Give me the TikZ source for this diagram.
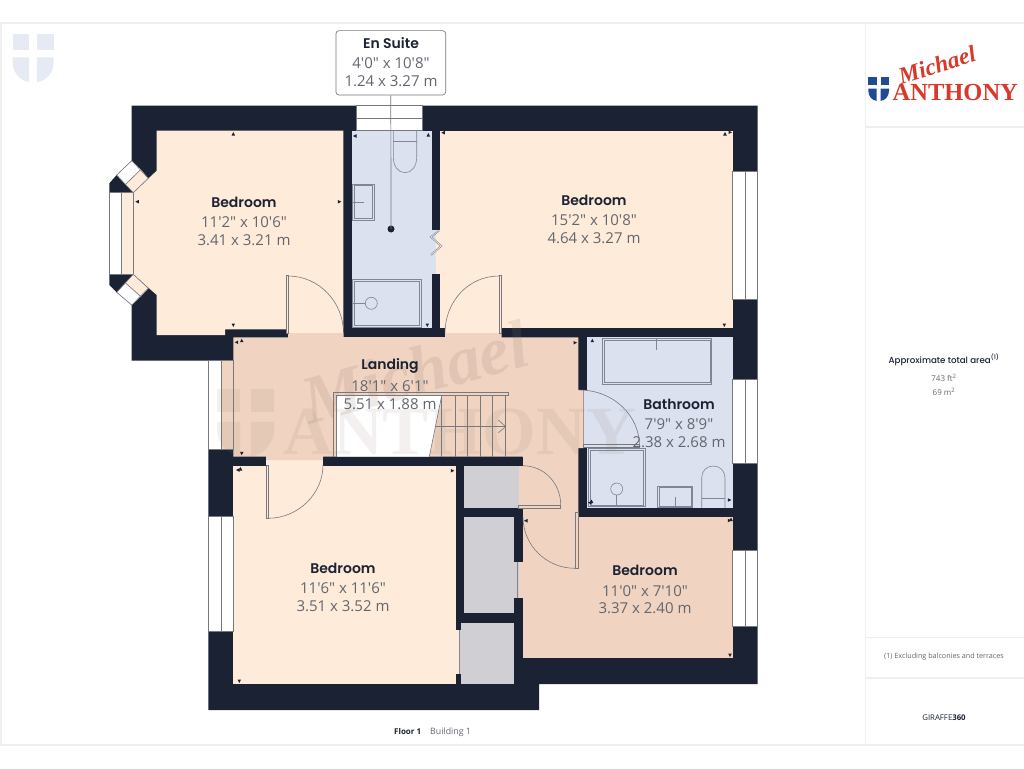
\documentclass[tikz,border=0pt]{standalone}
\usepackage{fontspec}
\newfontfamily\ttl{Poppins SemiBold}
\newfontfamily\ttm{Poppins Medium}
\newfontfamily\dimf{Open Sans}
\newfontfamily\wmf{Liberation Serif}
\definecolor{wallc}{HTML}{1A2233}
\definecolor{peachA}{HTML}{FFEBDA}
\definecolor{peachB}{HTML}{F0D3C1}
\definecolor{blueR}{HTML}{DBE1EF}
\definecolor{cupb}{HTML}{D0CFD3}
\definecolor{dimc}{HTML}{62676F}
\definecolor{framec}{HTML}{EFEFEF}
\definecolor{linec}{HTML}{77797F}
\definecolor{fixc}{HTML}{7F8694}
\definecolor{logoR}{HTML}{D9392B}
\definecolor{logoB}{HTML}{1E4B94}
\definecolor{wmc}{HTML}{8C7464}
\tikzset{
  x=1pt,y=-1pt,
  framel/.style={draw=framec,line width=1.2pt},
  winl/.style={draw=linec,line width=.6pt},
  doorl/.style={draw=linec,line width=.6pt},
  fixl/.style={draw=fixc,line width=.6pt},
  fixd/.style={draw=fixc,line width=.6pt},
  title/.style={inner sep=0pt,text=wallc,font=\ttl\fontsize{14}{16}\selectfont},
  dims/.style={inner sep=0pt,text=dimc,font=\dimf\fontsize{15}{17}\selectfont},
  side/.style={inner sep=0pt,text=dimc,font=\dimf\fontsize{8}{9}\selectfont},
  shieldmark/.pic={
    \fill[pic actions] (0,0) rectangle (16.5,16.5);
    \fill[pic actions] (24.2,0) rectangle (41,16.5);
    \fill[pic actions] (0,23.5) -- (16.5,23.5) -- (16.5,48) .. controls (7,47) and (0,38) .. (0,28) -- cycle;
    \fill[pic actions] (24.2,23.5) -- (41,23.5) -- (41,28) .. controls (41,38) and (34,47) .. (24.2,48) -- cycle;
  }
}
\newcommand{\tkU}[2]{\fill[wallc,shift={(#1,#2)}] (0,-2) -- (1.8,1.5) -- (-1.8,1.5) -- cycle;}
\newcommand{\tkD}[2]{\fill[wallc,shift={(#1,#2)}] (0,2) -- (1.8,-1.5) -- (-1.8,-1.5) -- cycle;}
\newcommand{\tkL}[2]{\fill[wallc,shift={(#1,#2)}] (-2,0) -- (1.5,-1.8) -- (1.5,1.8) -- cycle;}
\newcommand{\tkR}[2]{\fill[wallc,shift={(#1,#2)}] (2,0) -- (-1.5,-1.8) -- (-1.5,1.8) -- cycle;}
\begin{document}
\begin{tikzpicture}
\useasboundingbox (0,0) rectangle (1024,768);
\fill[white] (0,0) rectangle (1024,768);
% frame
\draw[framel] (0,23) -- (1024,23);
\draw[framel] (0,745) -- (1024,745);
\draw[framel] (1,23) -- (1,745);
\draw[framel] (865.3,23) -- (865.3,745);
\draw[framel] (865.3,127) -- (1024,127);
\draw[framel] (865.3,637.5) -- (1024,637.5);
\draw[framel] (865.3,678) -- (1024,678);
% top-left mark
\pic[fill=blueR!70] at (12.7,34) {shieldmark};
% walls
\fill[wallc] (131.7,105.7) -- (757.6,105.7) -- (757.6,684) -- (539,684) -- (539,710) -- (208.3,710) -- (208.3,360.5) -- (131.7,360.5) -- (131.7,305) -- (116.7,292.3) -- (109.3,285) -- (109.3,183.3) -- (116.7,175) -- (131.7,160.7) -- cycle;
% rooms
\fill[peachA] (156.7,130.7) -- (343.3,130.7) -- (343.3,328.3) -- (286,328.3) -- (286,329.3) -- (225,329.3) -- (225,335) -- (156.7,335) -- (156.7,295) -- (133.3,274.3) -- (133.3,192.7) -- (156.7,170.7) -- cycle;
\fill[peachA] (286,325) rectangle (343.3,333);
\fill[peachA] (440,130.7) rectangle (732.7,328.3);
\fill[peachA] (436,230) rectangle (440,274);
\fill[peachA] (445,325) rectangle (501.5,333);
\fill[blueR] (351.7,130.7) rectangle (431.7,328);
\fill[blueR] (431.7,230) rectangle (436,274);
\fill[blueR] (587.3,337.3) rectangle (732.7,507.7);
\fill[blueR] (583.5,390) rectangle (587.3,448);
\fill[peachA] (233.3,465.5) rectangle (455.7,684);
\fill[peachA] (266,456.7) rectangle (323,466);
\fill[peachA] (455,630) rectangle (461,674);
\fill[cupb] (464,465.7) rectangle (519,508);
\fill[cupb] (464,516.7) rectangle (514,613);
\fill[cupb] (461,622.5) rectangle (514,684);
\fill[cupb] (514,562) rectangle (517.5,598);
% landing
\fill[peachB] (233.3,337.3) -- (288,337.3) -- (288,333) -- (343.5,333) -- (343.5,337) -- (445,337) -- (445,333) -- (501.5,333) -- (501.5,337.3) -- (578.3,337.3) -- (578.3,390) -- (583.5,390) -- (583.5,448) -- (578.3,448) -- (578.3,517) -- (522.5,517) -- (522.5,456.7) -- (323,456.7) -- (323,460) -- (266,460) -- (266,456.7) -- (233.3,456.7) -- cycle;
\fill[peachB] (519,465.7) rectangle (523,508);
\fill[peachB] (522.5,516.7) rectangle (732.7,658.3);
\fill[peachB] (517.5,562) rectangle (522.5,598);
% walls redrawn that landing overlaps
\fill[wallc] (323,456.7) rectangle (522.7,465.7);
\fill[wallc] (514,508) rectangle (522.7,516.7);
\fill[wallc] (514,516.7) rectangle (522.5,561.7);
% windows
\fill[white] (356,105.7) rectangle (422.7,130.7);
\draw[winl] (356,105.7) rectangle (422.7,130.7);
\draw[winl] (356,118) -- (422.7,118);
\foreach \ya/\yb in {171/299,379/463,550/626}{
  \fill[white] (732.7,\ya) rectangle (757.6,\yb);
  \draw[winl] (732.7,\ya) rectangle (757.6,\yb);
  \draw[winl] (745.3,\ya) -- (745.3,\yb);
}
\fill[white] (208.3,516) rectangle (233.3,631);
\draw[winl] (208.3,516) rectangle (233.3,631);
\draw[winl] (221,516) -- (221,631);
\fill[white] (208.3,360.7) rectangle (221,449);
\fill[peachB] (221,360.7) rectangle (233.3,449);
\draw[winl] (208.3,360.7) rectangle (233.3,449);
\draw[winl] (221,360.7) -- (221,449);
% bay window
\fill[white] (109.3,192.7) rectangle (121.7,274.3);
\fill[peachA] (121.7,192.7) rectangle (133.3,274.3);
\draw[winl] (109.3,192.7) rectangle (133.3,274.3);
\draw[winl] (121.7,192.7) -- (121.7,274.3);
\fill[white] (131.7,160.7) -- (140.8,169.5) -- (125.5,184.5) -- (116.7,175) -- cycle;
\fill[peachA] (140.8,169.5) -- (148.3,178.3) -- (133.3,192.7) -- (125.5,184.5) -- cycle;
\draw[winl] (131.7,160.7) -- (148.3,178.3) -- (133.3,192.7) -- (116.7,175) -- cycle;
\draw[winl] (140.8,169.5) -- (125.5,184.5);
\fill[white] (116.7,292.3) -- (131.7,305) -- (140.8,296.5) -- (125.5,283) -- cycle;
\fill[peachA] (125.5,283) -- (140.8,296.5) -- (148.3,288.3) -- (133.3,274.3) -- cycle;
\draw[winl] (133.3,274.3) -- (148.3,288.3) -- (131.7,305) -- (116.7,292.3) -- cycle;
\draw[winl] (125.5,283) -- (140.8,296.5);
% stairs
\fill[white] (336.7,395.7) -- (441.7,395.7) -- (429.3,456.7) -- (336.7,456.7) -- cycle;
\draw[winl] (333.3,456.7) -- (333.3,392.3) -- (508.3,392.3) -- (508.3,395.7) -- (336.7,395.7) -- (336.7,456.7);
\draw[winl] (441.7,395.7) -- (429.3,456.7);
\foreach \sx in {441.7,455,467.7,480,492.7,505.7}{ \draw[winl] (\sx,395.7) -- (\sx,456.7); }
\draw[winl] (435,426.7) -- (505.7,426.7);
\draw[winl] (498.3,420) -- (505.7,426.7) -- (498.3,432.7);
% doors
\draw[doorl,fill=peachA] (286,275.7) rectangle (288,333);
\draw[doorl] (288,276) .. controls (319,276) and (343.5,302) .. (343.5,333);
\draw[doorl,fill=peachA] (499,275.7) rectangle (501.5,333);
\draw[doorl] (499,276) .. controls (468,276) and (445,302) .. (445,333);
\draw[doorl,fill=peachA] (266,465) rectangle (268.5,518.3);
\draw[doorl] (268,518.3) .. controls (298,518.3) and (323,494) .. (323,465);
\draw[doorl,fill=blueR] (583.5,444.3) rectangle (639.5,447.7);
\draw[doorl] (579,390) .. controls (614,390) and (639.5,416) .. (639.5,446);
\draw[doorl,fill=peachB] (518.5,505) rectangle (560.7,508);
\draw[doorl] (522.7,465.7) .. controls (544,465.7) and (560.7,483) .. (560.7,505);
\draw[doorl,fill=peachB] (575,512) rectangle (578.3,568.3);
\draw[doorl] (575,568.3) .. controls (546,568.3) and (523,545) .. (523,517);
% bi-fold and sliding doors
\draw[fixl,line width=1.7pt] (439,230.7) -- (431,237) -- (441.2,246) -- (431,255);
\draw[blueR,line width=.6pt] (439,230.7) -- (431,237);
\draw[peachA,line width=.6pt] (431,237) -- (441.2,246) -- (431,255);
\draw[fixl,line width=2pt] (517.8,562) -- (517.8,598);
\draw[cupb,line width=.6pt] (517.8,562) -- (517.8,598);
\draw[fixl,line width=2pt] (459.8,630) -- (459.8,674);
\draw[cupb,line width=.6pt] (459.8,630) -- (459.8,674);
% en suite fixtures
\draw[fixd] (393.3,131) -- (393.3,157) .. controls (393.3,166) and (398,172.7) .. (405,172.7) .. controls (412,172.7) and (416.7,166) .. (416.7,157) -- (416.7,131);
\draw[fixd] (393.3,141.7) -- (416.7,141.7);
\draw[fixd] (352.7,184) rectangle (374.3,220);
\draw[fixd] (354.3,185.7) rectangle (372.7,218.3);
\draw[fixd] (352.7,202) -- (363.5,202);
\draw[fixd] (352.7,279.3) rectangle (421,327.3);
\draw[fixd] (354.3,281) rectangle (419.4,325.7);
\draw[fixd] (371.3,303.3) circle (6);
\draw[fixd] (352.7,303.3) -- (365.3,303.3);
% bathroom fixtures
\draw[fixd] (602.7,338.3) rectangle (711.7,384.3);
\draw[fixd] (604.3,340) rectangle (710,382.6);
\draw[fixd] (656.7,338.3) -- (656.7,350);
\draw[fixd] (588.3,448.3) rectangle (645,506.7);
\draw[fixd] (590,450) rectangle (643.3,505);
\draw[fixd] (616.7,489) circle (6);
\draw[fixd] (616.7,495) -- (616.7,506.7);
\draw[fixd] (657.7,486) rectangle (692.7,507.7);
\draw[fixd] (659.3,487.7) rectangle (691,506);
\draw[fixd] (675.3,496.7) -- (675.3,507.7);
\draw[fixd] (701.7,507.7) -- (701.7,478) .. controls (701.7,471) and (706.5,466) .. (713.3,466) .. controls (720.2,466) and (725,471) .. (725,478) -- (725,507.7);
\draw[fixd] (701.7,498.3) -- (725,498.3);
% dimension ticks
\tkU{233.3}{134}\tkL{137.3}{201.7}\tkR{339.3}{201.7}\tkD{233.3}{325}
\tkL{355}{136}\tkU{428.3}{135}\tkL{443.3}{132.7}\tkD{427.3}{325}
\tkL{236.7}{342.3}\tkU{241.7}{340.7}\tkR{575}{342.7}\tkD{241.7}{453.3}
\tkL{238}{470}\tkU{240.5}{469}\tkR{452.3}{470.7}\tkD{239.3}{681}
\tkU{725}{134}\tkR{730}{132.3}\tkD{724.3}{325}
\tkU{592.3}{340.7}\tkL{590}{502.7}\tkU{591.5}{501.5}\tkR{729.3}{500}
\tkR{729.3}{520.5}\tkU{731}{519.5}\tkL{526}{520.7}\tkD{730}{655}
% watermark
\node[inner sep=0pt,anchor=base west,text=wmc,opacity=.1,font=\wmf\bfseries\fontsize{69}{70}\selectfont] (wmAnthony) at (283,454) {ANTHONY};
\node[inner sep=0pt,text=wmc,opacity=.15,rotate=15,font=\wmf\bfseries\itshape\fontsize{68}{70}\selectfont] (wmMichael) at (415,372) {Michael};
\pic[fill=wmc,fill opacity=.1,scale=1.4] at (217,389) {shieldmark};
% label connector and box
\node[draw=linec,line width=.7pt,fill=white,rounded corners=3pt,minimum width=109.7pt,minimum height=64.3pt,inner sep=0pt] (ensuitebox) at (390.8,62.8) {};
\node[circle,fill=wallc,inner sep=0pt,minimum size=7pt] (ensuitedot) at (391,229) {};
\draw[draw=linec,line width=.7pt] (ensuitebox.south) -- (ensuitedot.center);
% labels
\node[title] (t1) at (244,202) {Bedroom};
\node[dims] (a1) at (244,222) {11'2" x 10'6"};
\node[dims] (b1) at (244,240) {3.41 x 3.21 m};
\node[title] (t2) at (594,200) {Bedroom};
\node[dims] (a2) at (594,220) {15'2" x 10'8"};
\node[dims] (b2) at (594,238) {4.64 x 3.27 m};
\node[title] (t3) at (391,43) {En Suite};
\node[dims] (a3) at (391,63) {4'0" x 10'8"};
\node[dims] (b3) at (391,81.5) {1.24 x 3.27 m};
\node[title] (t4) at (390,366) {Landing};
\node[dims] (a4) at (390,386) {18'1" x 6'1"};
\node[dims] (b4) at (390,404) {5.51 x 1.88 m};
\node[title] (t5) at (679,404) {Bathroom};
\node[dims] (a5) at (679,424) {7'9" x 8'9"};
\node[dims] (b5) at (679,441.7) {2.38 x 2.68 m};
\node[title] (t6) at (343,568) {Bedroom};
\node[dims] (a6) at (343,588) {11'6" x 11'6"};
\node[dims] (b6) at (343,605.7) {3.51 x 3.52 m};
\node[title] (t7) at (645,570.7) {Bedroom};
\node[dims] (a7) at (645,591) {11'0" x 7'10"};
\node[dims] (b7) at (645,608) {3.37 x 2.40 m};
% sidebar
\pic[fill=logoB,scale=.505] at (868.3,76.7) {shieldmark};
\node[inner sep=0pt,anchor=base west,text=logoR,font=\wmf\bfseries\fontsize{24.5}{26}\selectfont] (logoAnthony) at (892.5,100) {ANTHONY};
\node[inner sep=0pt,rotate=17,text=logoR,font=\wmf\bfseries\itshape\fontsize{23.5}{24}\selectfont] (logoMichael) at (937,65) {Michael};
\node[inner sep=0pt,text=wallc,font=\ttm\fontsize{8.7}{10}\selectfont] (area) at (944,360) {Approximate total area\textsuperscript{(1)}};
\node[side] (ft) at (944,377.5) {743 ft\textsuperscript{2}};
\node[side] (m2) at (944,392) {69 m\textsuperscript{2}};
\node[side,font=\dimf\fontsize{7.2}{9}\selectfont] (note) at (944,657) {(1) Excluding balconies and terraces};
\node[side,text=wallc,font=\dimf\fontsize{7.8}{9}\selectfont] (giraffe) at (944,718) {GIRAFFE{\bfseries 360}};
\node[side,anchor=base west,text=wallc,font=\dimf\bfseries\fontsize{8}{9}\selectfont] (floor) at (394,734.5) {Floor 1};
\node[side,anchor=base west,font=\dimf\fontsize{8.8}{9}\selectfont] (building) at (430,734.5) {Building 1};
\end{tikzpicture}
\end{document}
